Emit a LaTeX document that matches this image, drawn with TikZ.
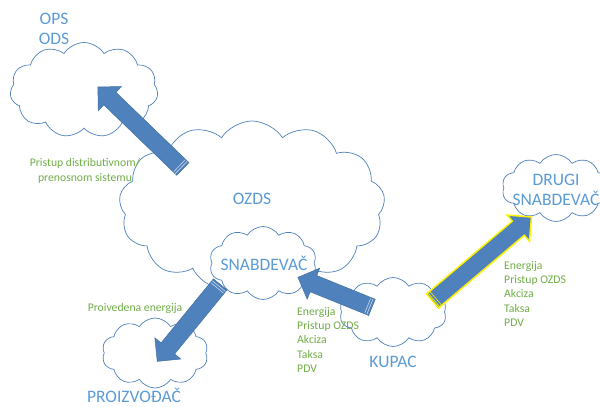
\documentclass[tikz,border=0pt]{standalone}
\usepackage{fontspec}
\setmainfont{Carlito}
\usetikzlibrary{shapes.symbols,shapes.arrows,calc}
\definecolor{cloudline}{HTML}{4F81BD}
\definecolor{bluetext}{HTML}{5B9BD5}
\definecolor{greentext}{HTML}{70AD47}
\definecolor{arrowfill}{HTML}{4F81BD}
\definecolor{arrowline}{HTML}{41719C}
\tikzset{
  oblak/.style={cloud, cloud puffs=#1, cloud puff arc=115, cloud ignores aspect,
    draw=cloudline, line width=0.7pt, fill=white, inner sep=0pt},
  oblak/.default=11,
  naziv/.style={text=bluetext, font=\fontsize{17.5}{19.5}\selectfont, align=center, inner sep=0pt},
  stavka/.style={text=greentext, font=\fontsize{11.7}{14.3}\selectfont, inner sep=0pt},
  strelica/.style={single arrow, single arrow head extend=8pt, inner xsep=0pt, inner ysep=8.5pt,
    fill=arrowfill, draw=arrowline, line width=0.5pt},
  pruga/.style={draw=#1, line width=0.6pt},
}
\newcommand\blokstrelica[3][]{%
  \path let \p1=($(#3)-(#2)$), \n1={veclen(\x1,\y1)}, \n2={atan2(\y1,\x1)} in
    node[strelica,#1,minimum height=\n1,rotate=\n2] at ($(#2)!.5!(#3)$) {};}
% dvije pruge na repu strelice
\newcommand\pruge[2][white!70!arrowfill]{%
  \foreach \d in {2.5pt,5pt}
    \draw[pruga=#1] ($(#2.before tail)!\d!(#2.before head)$) -- ($(#2.after tail)!\d!(#2.after head)$);}
\begin{document}
\begin{tikzpicture}[x=1pt,y=-1pt]
\useasboundingbox (0,0) rectangle (600,407);
% oblaci
\node[oblak, minimum width=148pt, minimum height=95pt] (ops) at (84,90) {};
\node[oblak=13, minimum width=266pt, minimum height=170pt] (ozds) at (252,206) {};
\node[oblak=10, minimum width=107pt, minimum height=73pt] (snab) at (263,263) {};
\node[oblak=10, minimum width=106pt, minimum height=70pt] (proiz) at (155,353) {};
\node[oblak=10, minimum width=107pt, minimum height=69pt] (kupac) at (393,312) {};
\node[oblak=10, minimum width=108pt, minimum height=67pt] (drugi) at (556,188) {};
% nazivi
\node[naziv] (opsods) at (54,29) {OPS\\ODS};
\node[naziv] (ozdsnaziv) at (252,199) {OZDS};
\node[naziv] (snabnaziv) at (264,263) {SNABDEVAČ};
\node[naziv] (proiznaziv) at (134,395) {PROIZVOĐAČ};
\node[naziv] (kupacnaziv) at (393,362) {KUPAC};
\node[naziv] (druginaziv) at (556,190) {DRUGI\\SNABDEVAČ};
% krajevi strelica
\coordinate (ozds-iz) at (186,172);
\coordinate (ops-u) at (101,90);
\coordinate (snab-iz) at (223,281);
\coordinate (proiz-u) at (160,358);
\coordinate (kupac-iz) at (376,309);
\coordinate (snab-u) at (302,279);
\coordinate (kupac-iz2) at (429,304);
\coordinate (drugi-u) at (528,220);
\blokstrelica[name=s1]{ozds-iz}{ops-u}
\blokstrelica[name=s2]{snab-iz}{proiz-u}
\blokstrelica[name=s3]{kupac-iz}{snab-u}
\blokstrelica[name=s4, draw=yellow, line width=1.5pt]{kupac-iz2}{drugi-u}
\pruge{s1} \pruge{s2} \pruge{s3} \pruge[yellow]{s4}
% stavke
\node[stavka, align=center] (pristup) at (85,171) {Pristup distributivnom/\\prenosnom sistemu};
\node[stavka] (proizvedena) at (135,308) {Proivedena energija};
\node[stavka, align=left, anchor=north west] (lista1) at (297,307)
  {Energija\\Pristup OZDS\\Akciza\\Taksa\\PDV};
\node[stavka, align=left, anchor=north west] (lista2) at (504,261)
  {Energija\\Pristup OZDS\\Akciza\\Taksa\\PDV};
\end{tikzpicture}
\end{document}
